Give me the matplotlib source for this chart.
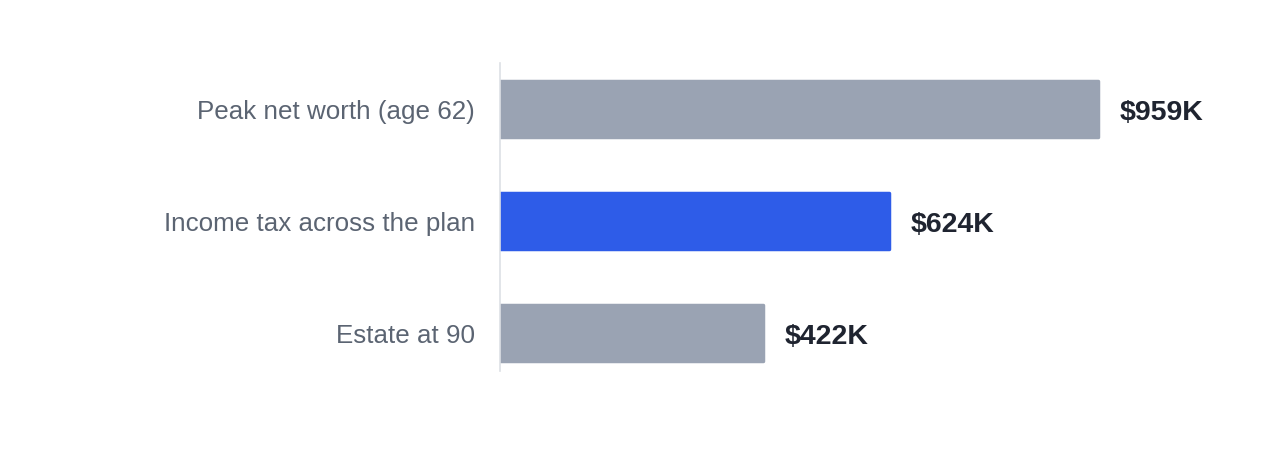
import matplotlib.pyplot as plt
from matplotlib.transforms import offset_copy

# data
categories = ['Peak net worth (age 62)', 'Income tax across the plan', 'Estate at 90']
values = [959, 624, 422]  # thousands of dollars
value_labels = ['$959K', '$624K', '$422K']
highlight = [False, True, False]

gray = '#9aa3b3'
blue = '#2e5ce8'

plt.rcParams['font.family'] = ['Liberation Sans', 'DejaVu Sans']

fig = plt.figure(figsize=(12.8, 4.64), dpi=100)
# axes placed in pixel terms: x 500..1187, y 64..372 (from top)
ax = fig.add_axes([500 / 1280, 1 - 372 / 464, 687 / 1280, 308 / 464])

colors = [blue if h else gray for h in highlight]
ypos = list(range(len(categories)))
ax.barh(ypos, values, height=0.505, color=colors, edgecolor=colors,
        linewidth=2.5, joinstyle='round', zorder=2)

ax.set_xlim(0, 1102)
ax.set_ylim(2.34, -0.41)

ax.set_yticks(ypos)
ax.set_yticklabels(categories, fontsize=18.7, color='#5b6472')
ax.tick_params(axis='y', length=0, pad=18)
ax.set_xticks([])

for s in ['top', 'right', 'bottom']:
    ax.spines[s].set_visible(False)
ax.spines['left'].set_color('#dde0e5')
ax.spines['left'].set_linewidth(1.2)

for y, v, lab in zip(ypos, values, value_labels):
    tr = offset_copy(ax.transData, fig=fig, x=15.5, y=-2, units='points')
    ax.text(v, y, lab, transform=tr, va='center', ha='left',
            fontsize=20.5, fontweight='bold', color='#1f2430')

fig.savefig('out.png', dpi=100)
